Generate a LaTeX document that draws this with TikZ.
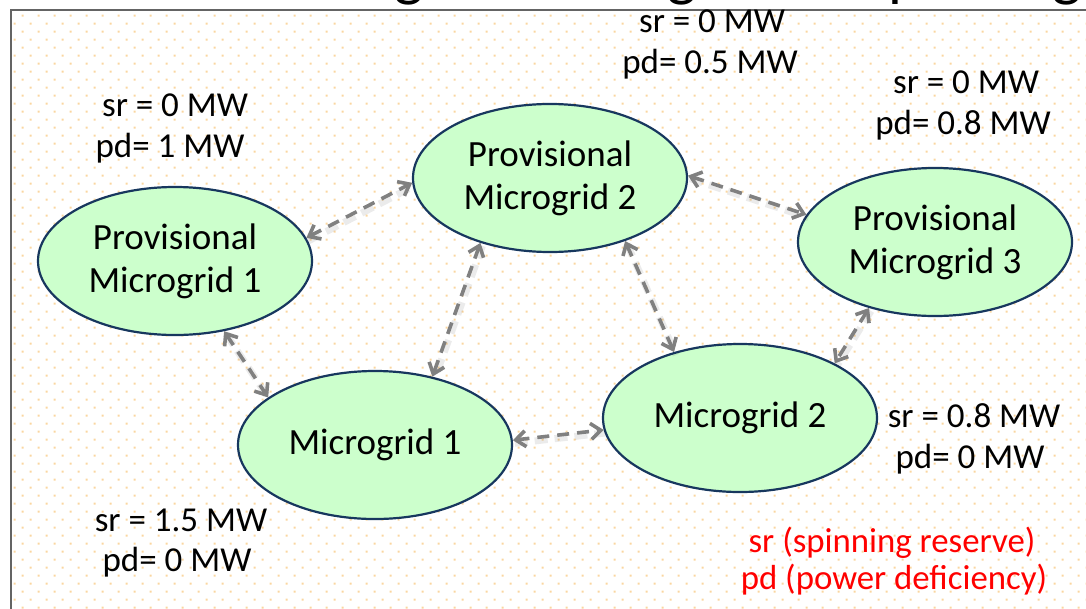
\documentclass[tikz,border=0pt]{standalone}
\usepackage{fontspec}
\setmainfont{Carlito}
\usetikzlibrary{shapes.geometric,arrows.meta}

\definecolor{dotc}{RGB}{250,214,160}
\definecolor{framec}{RGB}{100,100,100}
\definecolor{mgfill}{RGB}{204,255,204}
\definecolor{mgline}{RGB}{23,55,94}
\definecolor{linkc}{RGB}{128,128,128}

\tikzset{
  grid/.style={ellipse, draw=mgline, fill=mgfill, line width=2.2pt,
    minimum width=274pt, minimum height=148pt, inner sep=0pt,
    align=center, font=\fontsize{37}{43}\selectfont},
  info/.style={anchor=base, inner sep=0pt, font=\fontsize{35}{41}\selectfont},
  legend/.style={info, text=red, font=\fontsize{34.8}{41}\selectfont},
  link/.style={draw=linkc, line width=3.6pt, dash pattern=on 12pt off 8pt,
    {Straight Barb[length=10pt,width=16pt]}-{Straight Barb[length=10pt,width=16pt]}},
  linkshade/.style={draw=black, opacity=0.08, line width=7pt,
    dash pattern=on 13pt off 7pt, transform canvas={shift={(2pt,-3pt)}}},
  titlechar/.style={anchor=base, inner sep=0pt, font=\fontsize{62}{62}\selectfont}
}

% a link with its soft drop shade
\newcommand\mglink[2]{%
  \draw[linkshade] (#1) -- (#2);
  \draw[link] (#1) -- (#2);}

\begin{document}
\begin{tikzpicture}[x=1pt,y=-1pt]
  \path[use as bounding box] (0,0) rectangle (1086,608);

  % dotted slide background
  \fill[dotc] \foreach \j in {0,...,67} { \foreach \m in {0,...,37} {
      (22.7+16*\j-1,15.7+16*\m-1) rectangle ++(2,2)
      (14.7+16*\j-1,23.7+16*\m-1) rectangle ++(2,2) } };

  % heading of the slide, mostly above the frame
  \node[titlechar] (t1) at (409,-6) {g};
  \node[titlechar] (t2) at (682,-6) {g};
  \node[titlechar] (t3) at (905,-6) {p};
  \node[titlechar] (t4) at (1067,-6) {g};

  % frame
  \draw[framec, line width=2.2pt] (11,612) -- (11,10) -- (1090,10);

  % microgrids
  \node[grid] (pm1) at (175,261) {Provisional\\Microgrid 1};
  \node[grid] (pm2) at (550,178) {Provisional\\Microgrid 2};
  \node[grid] (pm3) at (935,242) {Provisional\\Microgrid 3};
  \node[grid] (mg1) at (375,445) {Microgrid 1};
  \node[grid] (mg2) at (740,418) {Microgrid 2};

  % links between microgrids
  \mglink{pm1.10.6}{pm2.182.5}
  \mglink{pm2.223.3}{mg1.50}
  \mglink{pm2.320.3}{mg2.135}
  \mglink{pm2.1.6}{pm3.168.2}
  \mglink{pm3.225.8}{mg2.30.4}
  \mglink{pm1.305.2}{mg1.156.3}
  \mglink{mg1.2.5}{mg2.185.8}

  % reserve and deficiency values
  \node[info] (pm1sr) at (175,116) {sr = 0 MW};
  \node[info] (pm1pd) at (170,157) {pd= 1 MW};
  \node[info] (pm2sr) at (712,32) {sr = 0 MW};
  \node[info] (pm2pd) at (710,73) {pd= 0.5 MW};
  \node[info] (pm3sr) at (966,93) {sr = 0 MW};
  \node[info] (pm3pd) at (963,134) {pd= 0.8 MW};
  \node[info] (mg2sr) at (974,427) {sr = 0.8 MW};
  \node[info] (mg2pd) at (970,468) {pd= 0 MW};
  \node[info] (mg1sr) at (181,531) {sr = 1.5 MW};
  \node[info] (mg1pd) at (177,571) {pd= 0 MW};

  % legend
  \node[legend] (lgsr) at (892,552) {sr (spinning reserve)};
  \node[legend] (lgpd) at (894,589) {pd (power deficiency)};
\end{tikzpicture}
\end{document}
